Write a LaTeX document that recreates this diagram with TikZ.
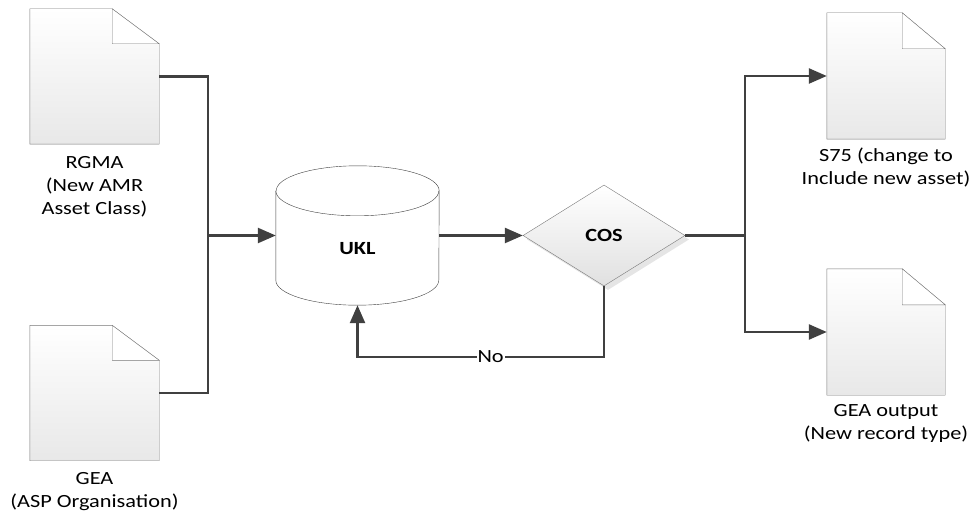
\documentclass[tikz,border=0pt]{standalone}
\usepackage{fontspec}
\setmainfont{Carlito}[FakeStretch=1.2]
\usetikzlibrary{arrows.meta, positioning, shapes, shadows, calc}
\definecolor{flowgray}{RGB}{64,64,64}
\definecolor{edgegray}{RGB}{120,120,120}
\newcommand{\flowfont}{\fontsize{18.6}{23}\selectfont}

\begin{document}
\begin{tikzpicture}[x=1pt, y=-1pt,
    font=\flowfont,
    flow/.style={draw=flowgray, line width=2.5pt},
    tip/.style={-{Triangle[length=18pt, width=15pt]}},
    docleft/.style={minimum width=129pt, minimum height=135pt, inner sep=0pt},
    docright/.style={minimum width=118pt, minimum height=126pt, inner sep=0pt},
    doctext/.style={align=center, inner sep=0pt}]
  \useasboundingbox (0,0) rectangle (972,513);

  % Input documents
  \node[docleft] (rgma) at (94.5,76.5) {};
  \node[docleft] (gea) at (94.5,393) {};
  % Output documents
  \node[docright] (sfive) at (886,76) {};
  \node[docright] (geaout) at (886,332) {};
  \foreach \d/\fx/\fy in {rgma/47/35, gea/47/35, sfive/43/36, geaout/43/36} {
    \draw[edgegray, top color=white, bottom color=black!9] (\d.north west) -- ($(\d.north east)+(-\fx,0)$)
      -- ($(\d.north east)+(0,\fy)$) -- (\d.south east) -- (\d.south west) -- cycle;
    \draw[edgegray, fill=white] ($(\d.north east)+(-\fx,0)$) -- ($(\d.north east)+(-\fx,\fy)$)
      -- ($(\d.north east)+(0,\fy)$) -- cycle;
  }
  \node[doctext, below=12pt of rgma] (rgmatext) {RGMA\\(New AMR\\Asset Class)};
  \node[doctext, below=12pt of gea] (geatext) {GEA\\(ASP Organisation)};
  \node[doctext, below=9pt of sfive] (sfivetext) {S75 (change to\\Include new asset)};
  \node[doctext, below=9pt of geaout] (geaouttext) {GEA output\\(New record type)};

  % Store
  \node[minimum width=163pt, minimum height=139pt, inner sep=0pt] (ukl) at (357.5,235.5) {};
  \draw[flowgray, fill=white] ($(ukl.north west)+(0,25)$) -- ($(ukl.south west)+(0,-25)$)
    arc[start angle=180, end angle=360, x radius=81.5pt, y radius=25pt]
    -- ($(ukl.north east)+(0,25)$)
    arc[start angle=0, end angle=180, x radius=81.5pt, y radius=25pt] -- cycle;
  \draw[flowgray] ($(ukl.north west)+(0,25)$) arc[start angle=180, end angle=360, x radius=81.5pt, y radius=25pt];
  \node[font=\flowfont\bfseries] (ukltext) at ($(ukl)+(0,13)$) {UKL};

  % Decision
  \node[diamond, aspect=1.6, minimum width=162pt, minimum height=101pt, inner sep=0pt,
    draw=edgegray, top color=white, bottom color=black!12,
    drop shadow={shadow xshift=4pt, shadow yshift=-4pt, fill=black!20, opacity=0.5},
    font=\flowfont\bfseries] (cos) at (604,235.5) {COS};

  % Connectors
  \coordinate (merge) at (208,235.5);
  \coordinate (loop) at (357.5,357);
  \coordinate (split) at (745,235.5);
  \draw[flow] (rgma.east) -| (merge);
  \draw[flow] (gea.east) -| (merge);
  \draw[flow, tip] (merge) -- (ukl.west);
  \draw[flow, tip] (ukl.east) -- (cos.west);
  \draw[flow, tip] (cos.south) |- node[pos=0.73, fill=white, inner sep=1pt] (no) {No} (loop) -- (ukl.south);
  \draw[flow] (cos.east) -- (split);
  \draw[flow, tip] (split) |- (sfive.west);
  \draw[flow, tip] (split) |- (geaout.west);
\end{tikzpicture}
\end{document}
